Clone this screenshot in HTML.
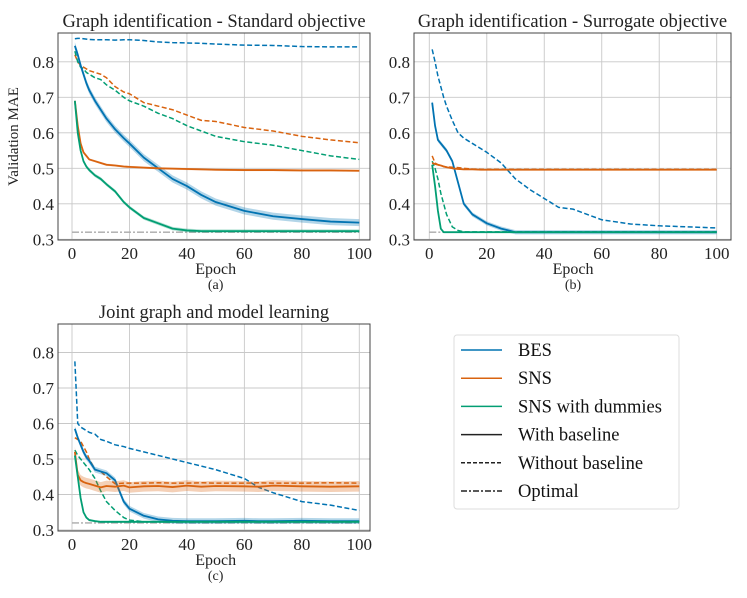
<!DOCTYPE html>
<html><head><meta charset="utf-8"><style>
body{margin:0;background:#fff}
svg{display:block;font-family:"Liberation Serif",serif}
</style></head><body>
<svg id="fig" width="747" height="598" viewBox="0 0 747 598" xmlns="http://www.w3.org/2000/svg"></svg>
<script>
const xTicks=[0,20,40,60,80,100];
const yTicks=[0.3,0.4,0.5,0.6,0.7,0.8];
const yTickLabels=["0.3","0.4","0.5","0.6","0.7","0.8"];
const optimalValue=0.32;
// Panel a
const aEpochs=[1,2,3,4,5,6,8,10,12,15,18,20,25,30,35,40,45,50,60,70,80,90,100];
const aBES=[0.845,0.82,0.79,0.765,0.74,0.72,0.69,0.665,0.64,0.61,0.585,0.57,0.53,0.50,0.47,0.45,0.425,0.405,0.38,0.365,0.357,0.35,0.347];
const aSNS=[0.69,0.62,0.57,0.545,0.535,0.525,0.52,0.515,0.51,0.508,0.505,0.504,0.502,0.50,0.499,0.498,0.497,0.496,0.495,0.495,0.494,0.494,0.493];
const aDum=[0.69,0.6,0.55,0.52,0.505,0.495,0.48,0.47,0.455,0.435,0.405,0.39,0.36,0.345,0.33,0.325,0.323,0.323,0.323,0.323,0.323,0.323,0.323];
const aBESnb=[0.865,0.866,0.866,0.865,0.864,0.863,0.862,0.862,0.862,0.861,0.862,0.862,0.86,0.856,0.854,0.853,0.852,0.85,0.847,0.846,0.843,0.842,0.842];
const aSNSnb=[0.82,0.8,0.79,0.785,0.78,0.775,0.77,0.765,0.755,0.73,0.715,0.71,0.685,0.675,0.665,0.65,0.635,0.632,0.615,0.605,0.59,0.58,0.572];
const aDumnb=[0.83,0.8,0.785,0.78,0.77,0.765,0.755,0.75,0.735,0.72,0.70,0.69,0.675,0.655,0.64,0.62,0.605,0.59,0.575,0.565,0.55,0.535,0.525];
// Panel b
const bEpochs=[1,2,3,4,5,6,8,10,12,15,18,20,25,30,35,40,45,50,60,70,80,90,100];
const bBES=[0.685,0.62,0.58,0.57,0.56,0.55,0.52,0.46,0.40,0.37,0.355,0.345,0.33,0.32,0.32,0.32,0.32,0.32,0.32,0.32,0.32,0.32,0.32];
const bSNS=[0.515,0.512,0.51,0.508,0.505,0.503,0.50,0.498,0.497,0.497,0.496,0.496,0.496,0.496,0.496,0.496,0.496,0.496,0.496,0.496,0.496,0.496,0.496];
const bDum=[0.51,0.45,0.38,0.33,0.32,0.32,0.32,0.32,0.32,0.32,0.32,0.32,0.32,0.32,0.32,0.32,0.32,0.32,0.32,0.32,0.32,0.32,0.32];
const bBESnb=[0.835,0.8,0.76,0.73,0.70,0.675,0.635,0.60,0.585,0.57,0.555,0.545,0.515,0.47,0.44,0.415,0.39,0.385,0.355,0.343,0.338,0.335,0.332];
const bSNSnb=[0.535,0.515,0.51,0.508,0.505,0.504,0.503,0.502,0.5,0.498,0.497,0.497,0.497,0.497,0.497,0.497,0.497,0.497,0.497,0.497,0.497,0.497,0.497];
const bDumnb=[0.52,0.50,0.47,0.43,0.40,0.37,0.335,0.325,0.321,0.321,0.321,0.321,0.321,0.321,0.321,0.321,0.321,0.321,0.321,0.321,0.321,0.321,0.321];
// Panel c
const cEpochs=[1,2,3,4,5,6,8,10,12,15,18,20,25,30,35,40,45,50,60,65,70,80,90,100];
const cBES=[0.585,0.56,0.54,0.52,0.505,0.495,0.47,0.465,0.46,0.44,0.38,0.36,0.34,0.33,0.326,0.325,0.325,0.325,0.326,0.325,0.325,0.326,0.325,0.325];
const cSNS=[0.52,0.455,0.44,0.435,0.432,0.43,0.425,0.42,0.424,0.422,0.425,0.42,0.423,0.424,0.421,0.425,0.422,0.424,0.423,0.422,0.425,0.423,0.422,0.423];
const cDum=[0.51,0.45,0.39,0.35,0.335,0.328,0.325,0.323,0.323,0.323,0.323,0.323,0.323,0.323,0.323,0.323,0.323,0.323,0.323,0.323,0.323,0.323,0.323,0.323];
const cBESnb=[0.775,0.6,0.59,0.585,0.58,0.575,0.57,0.555,0.55,0.54,0.535,0.53,0.52,0.51,0.50,0.49,0.48,0.47,0.445,0.42,0.405,0.38,0.37,0.355];
const cSNSnb=[0.56,0.555,0.55,0.535,0.52,0.5,0.47,0.465,0.45,0.43,0.432,0.432,0.432,0.433,0.432,0.432,0.433,0.432,0.432,0.433,0.432,0.432,0.433,0.432];
const cDumnb=[0.525,0.51,0.5,0.49,0.48,0.47,0.445,0.41,0.38,0.355,0.335,0.328,0.323,0.323,0.323,0.323,0.323,0.323,0.323,0.323,0.323,0.323,0.323,0.323];

const NS="http://www.w3.org/2000/svg";
const svg=document.getElementById('fig');
const C={bes:"#0173b2",sns:"#d9630f",dum:"#029e73"};
function mk(tag,attrs,parent){const e=document.createElementNS(NS,tag);for(const k in attrs)e.setAttribute(k,attrs[k]);(parent||svg).appendChild(e);return e;}
function panel(id,box,title,label,ylab,series){
  const g=mk('g',{});
  
  
  const xs=v=>box.x0+(v)/100*(box.x100-box.x0);
  const ys=v=>box.y3-(v-0.3)/0.1*35.5;
  xTicks.forEach(t=>{const l=mk('line',{x1:xs(t),x2:xs(t),y1:box.top,y2:box.bot,stroke:"#c8c8c8","stroke-width":0.9},g);});
  yTicks.forEach(t=>{const l=mk('line',{x1:box.left,x2:box.right,y1:ys(t),y2:ys(t),stroke:"#c8c8c8","stroke-width":0.9},g);});
  const op=mk('line',{x1:xs(0),x2:xs(100),y1:ys(optimalValue),y2:ys(optimalValue),stroke:"#aaa","stroke-width":1.4,"stroke-dasharray":"7 2 2 2"},g);
  
  series.forEach(s=>{
    const pts=s.ep.map((e,i)=>[xs(e),ys(s.v[i])]);
    if(s.band){
      const up=s.ep.map((e,i)=>xs(e)+','+ys(s.v[i]+s.band)).join(' ');
      const dn=s.ep.map((e,i)=>xs(e)+','+ys(s.v[i]-s.band)).reverse().join(' ');
      const b=mk('polygon',{points:up+' '+dn,fill:s.c,"fill-opacity":0.3,stroke:"none"},g);
      
    }
    const p=mk('polyline',{points:pts.map(q=>q.join(',')).join(' '),fill:"none",stroke:s.c,"stroke-width":s.d?1.5:1.8,"stroke-dasharray":s.d?"5 2.5":"none","stroke-linejoin":"round"},g);
    
  });
  const fr=mk('rect',{x:box.left,y:box.top,width:box.right-box.left,height:box.bot-box.top,fill:"none",stroke:"#444","stroke-width":1},g);
  
  xTicks.forEach(t=>{const tx=mk('text',{x:xs(t),y:box.bot+19,"text-anchor":"middle","font-size":17,fill:"#222"},g);tx.textContent=t;});
  yTicks.forEach((t,i)=>{const tx=mk('text',{x:box.left-4,y:ys(t)+6,"text-anchor":"end","font-size":17,fill:"#222"},g);tx.textContent=yTickLabels[i];});
  const tt=mk('text',{x:(box.left+box.right)/2,y:box.top-6,"text-anchor":"middle","font-size":18.5,fill:"#222"},g);tt.textContent=title;
  const xl=mk('text',{x:(box.x0+box.x100)/2,y:box.bot+34,"text-anchor":"middle","font-size":16,fill:"#222"},g);xl.textContent="Epoch";
  const lb=mk('text',{x:(box.x0+box.x100)/2,y:box.bot+49,"text-anchor":"middle","font-size":14,fill:"#222"},g);lb.textContent=label;
  if(ylab){const yl=mk('text',{x:0,y:0,"text-anchor":"middle","font-size":15,fill:"#222",transform:`translate(${box.left-40},${(box.top+box.bot)/2}) rotate(-90)`},g);yl.textContent=ylab;}
}
panel('panel-a',{left:58,right:370,top:33,bot:240,x0:72,x100:359.3,y3:239.3},"Graph identification - Standard objective","(a)","Validation MAE",[
 {name:'bes-no-baseline',ep:aEpochs,v:aBESnb,c:C.bes,d:1},
 {name:'sns-no-baseline',ep:aEpochs,v:aSNSnb,c:C.sns,d:1},
 {name:'dummies-no-baseline',ep:aEpochs,v:aDumnb,c:C.dum,d:1},
 {name:'bes-baseline',ep:aEpochs,v:aBES,c:C.bes,band:0.01},
 {name:'sns-baseline',ep:aEpochs,v:aSNS,c:C.sns,band:0.003},
 {name:'dummies-baseline',ep:aEpochs,v:aDum,c:C.dum,band:0.005}]);
panel('panel-b',{left:414,right:731,top:33,bot:240,x0:429.3,x100:716.7,y3:239.3},"Graph identification - Surrogate objective","(b)",null,[
 {name:'bes-no-baseline',ep:bEpochs,v:bBESnb,c:C.bes,d:1},
 {name:'sns-no-baseline',ep:bEpochs,v:bSNSnb,c:C.sns,d:1},
 {name:'dummies-no-baseline',ep:bEpochs,v:bDumnb,c:C.dum,d:1},
 {name:'bes-baseline',ep:bEpochs,v:bBES,c:C.bes,band:0.006},
 {name:'sns-baseline',ep:bEpochs,v:bSNS,c:C.sns,band:0.002},
 {name:'dummies-baseline',ep:bEpochs,v:bDum,c:C.dum,band:0.002}]);
panel('panel-c',{left:58,right:370,top:324,bot:531,x0:72,x100:359.3,y3:530},"Joint graph and model learning","(c)",null,[
 {name:'bes-no-baseline',ep:cEpochs,v:cBESnb,c:C.bes,d:1},
 {name:'sns-no-baseline',ep:cEpochs,v:cSNSnb,c:C.sns,d:1},
 {name:'dummies-no-baseline',ep:cEpochs,v:cDumnb,c:C.dum,d:1},
 {name:'bes-baseline',ep:cEpochs,v:cBES,c:C.bes,band:0.008},
 {name:'sns-baseline',ep:cEpochs,v:cSNS,c:C.sns,band:0.015},
 {name:'dummies-baseline',ep:cEpochs,v:cDum,c:C.dum,band:0.003}]);
const legendLabels=["BES","SNS","SNS with dummies","With baseline","Without baseline","Optimal"];
const lg=mk('g',{});


mk('rect',{x:454,y:335,width:225,height:174,rx:3,fill:"#fff",stroke:"#ddd","stroke-width":1},lg);
const lc=[C.bes,C.sns,C.dum,"#222","#222","#222"];
const ld=["none","none","none","none","4 2","6 2 2 2"];
legendLabels.forEach((t,i)=>{
  const y=350+i*28.2;
  const ln=mk('line',{x1:461,x2:502,y1:y,y2:y,stroke:lc[i],"stroke-width":1.5,"stroke-dasharray":ld[i]},lg);
  
  
  const tx=mk('text',{x:518,y:y+6,"font-size":18.5,fill:"#111"},lg);
  tx.textContent=t;
  
  
});
</script>
</body></html>
